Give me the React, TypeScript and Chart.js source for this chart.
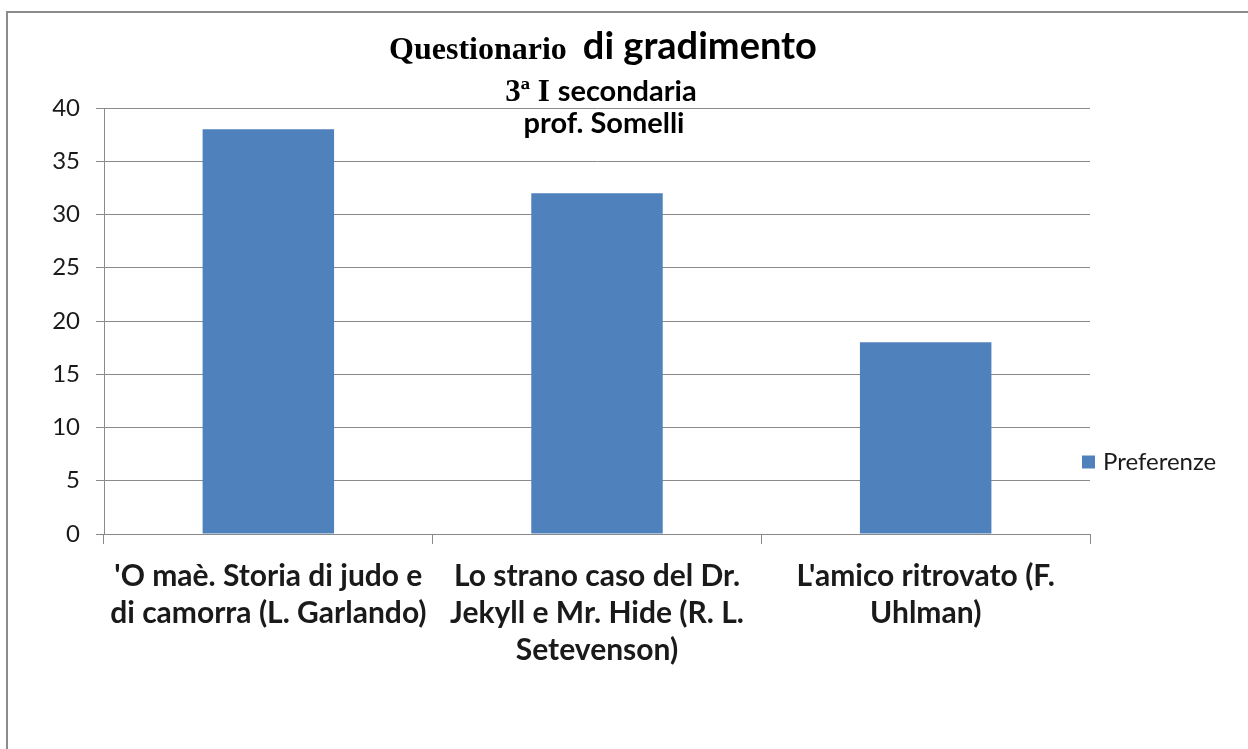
import React, { useEffect, useRef } from "react";
import { Chart, registerables } from "chart.js";

Chart.register(...registerables);

const categories: string[][] = [
  ["'O maè. Storia di judo e", "di camorra (L. Garlando)"],
  ["Lo strano caso del Dr.", "Jekyll e Mr. Hide (R. L.", "Setevenson)"],
  ["L'amico ritrovato (F.", "Uhlman)"],
];
const seriesName = "Preferenze";
const preferenze = [38, 32, 18];
const yMin = 0;
const yMax = 40;
const yStep = 5;

const titleLine1 = [
  { text: "Questionario  ", serif: true },
  { text: "di gradimento", serif: false },
];
const titleLine2 = [
  { text: "3ª I ", serif: true },
  { text: "secondaria", serif: false },
];
const titleLine3 = [{ text: "prof. Somelli", serif: false }];

const BAR_COLOR = "#4F81BD";
const GRID = "#8a8a8a";
const TEXT = "#1a1a1a";
const SANS = "Lato, 'Noto Sans', sans-serif";
const SERIF = "'Liberation Serif', 'DejaVu Serif', serif";

type Run = { text: string; serif: boolean };

function drawRuns(ctx: CanvasRenderingContext2D, runs: Run[], cx: number, baseline: number, serifSize: number, sansSize: number) {
  const fonts = runs.map((r) => (r.serif ? `bold ${serifSize}px ${SERIF}` : `bold ${sansSize}px ${SANS}`));
  let total = 0;
  const widths = runs.map((r, i) => {
    ctx.font = fonts[i];
    const w = ctx.measureText(r.text).width;
    total += w;
    return w;
  });
  let x = cx - total / 2;
  ctx.textBaseline = "alphabetic";
  ctx.textAlign = "left";
  runs.forEach((r, i) => {
    ctx.font = fonts[i];
    ctx.fillText(r.text, x, baseline);
    x += widths[i];
  });
}

const decorPlugin = {
  id: "decor",
  beforeDraw(chart: any) {
    const ctx: CanvasRenderingContext2D = chart.ctx;
    const w = chart.width;
    const h = chart.height;
    ctx.save();
    ctx.fillStyle = "#ffffff";
    ctx.fillRect(0, 0, w, h);
    ctx.strokeStyle = "#8c8c8c";
    ctx.lineWidth = 2;
    ctx.beginPath();
    ctx.moveTo(7, h + 5);
    ctx.lineTo(7, 12);
    ctx.lineTo(w + 5, 12);
    ctx.stroke();
    ctx.restore();
  },
  afterDraw(chart: any) {
    const ctx: CanvasRenderingContext2D = chart.ctx;
    ctx.save();
    ctx.fillStyle = "#000000";
    drawRuns(ctx, titleLine1, 603, 59, 32, 38);
    drawRuns(ctx, titleLine2, 601, 101, 31, 29);
    drawRuns(ctx, titleLine3, 604, 133, 31, 29);

    // legend
    const ds = chart.data.datasets[0];
    const lx = 1082;
    const ly = 462;
    ctx.fillStyle = ds.backgroundColor;
    ctx.fillRect(lx, ly - 6.5, 13, 13);
    ctx.fillStyle = TEXT;
    ctx.font = `24px ${SANS}`;
    ctx.textBaseline = "middle";
    ctx.textAlign = "left";
    ctx.fillText(ds.label, lx + 21, ly);
    ctx.restore();
  },
};

export default function App() {
  const ref = useRef<HTMLCanvasElement | null>(null);
  useEffect(() => {
    if (!ref.current) return;
    const chart = new Chart(ref.current, {
      type: "bar",
      data: {
        labels: categories,
        datasets: [
          {
            label: seriesName,
            data: preferenze,
            backgroundColor: BAR_COLOR,
            borderWidth: 0,
            barPercentage: 0.4,
            categoryPercentage: 1,
          },
        ],
      },
      options: {
        responsive: false,
        animation: false,
        devicePixelRatio: 1,
        layout: { padding: { top: 108, left: 0, right: 158, bottom: 0 } },
        plugins: {
          legend: { display: false },
          title: { display: false },
          tooltip: { enabled: false },
        },
        scales: {
          x: {
            afterFit: (s: any) => {
              s.height = 749 - 534;
            },
            grid: {
              display: true,
              drawOnChartArea: false,
              drawTicks: true,
              tickLength: 10,
              color: GRID,
              offset: true,
            },
            border: { display: true, color: GRID, width: 1 },
            ticks: {
              color: TEXT,
              font: { family: SANS, size: 30, weight: "bold", lineHeight: 1.233 },
              padding: 14,
              maxRotation: 0,
              autoSkip: false,
            },
          },
          y: {
            min: yMin,
            max: yMax,
            afterFit: (s: any) => {
              s.width = 104;
            },
            grid: {
              color: GRID,
              drawTicks: true,
              tickLength: 8,
            },
            border: { display: true, color: GRID, width: 1 },
            ticks: {
              stepSize: yStep,
              color: TEXT,
              font: { family: SANS, size: 24 },
              padding: 16,
            },
          },
        },
      },
      plugins: [decorPlugin],
    });
    return () => chart.destroy();
  }, []);
  return (
    <canvas
      ref={ref}
      width={1248}
      height={749}
      style={{ position: "fixed", left: 0, top: 0, width: 1248, height: 749, display: "block" }}
    />
  );
}
